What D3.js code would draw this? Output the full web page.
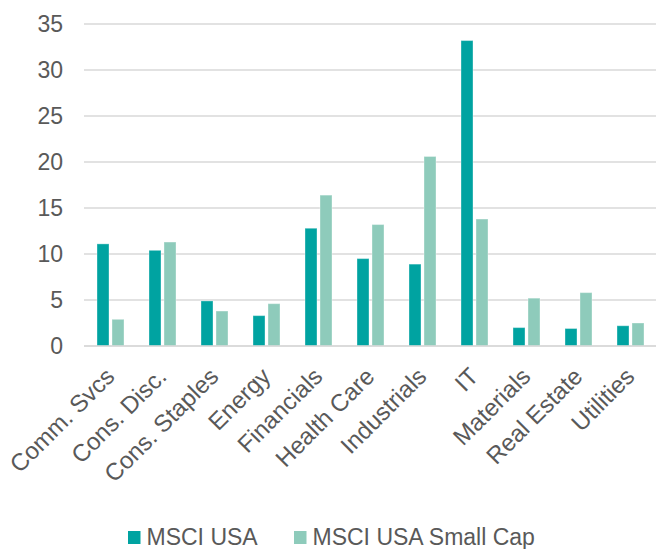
<!DOCTYPE html>
<html>
<head>
<meta charset="utf-8">
<script src="https://cdn.jsdelivr.net/npm/d3@7"></script>
<style>
  html, body { margin: 0; padding: 0; background: #fff; }
  svg { display: block; }
  text { font-family: "Liberation Sans", Arial, sans-serif; fill: #595959; }
</style>
</head>
<body>
<svg id="chart" width="656" height="549"></svg>
<script>
const categories = ["Comm. Svcs", "Cons. Disc.", "Cons. Staples", "Energy", "Financials", "Health Care", "Industrials", "IT", "Materials", "Real Estate", "Utilities"];
const seriesNames = ["MSCI USA", "MSCI USA Small Cap"];
const msciUSA = [11.1, 10.4, 4.9, 3.3, 12.8, 9.5, 8.9, 33.2, 2.0, 1.9, 2.2];
const msciUSASmallCap = [2.9, 11.3, 3.8, 4.6, 16.4, 13.2, 20.6, 13.8, 5.2, 5.8, 2.5];
const yTicks = [0, 5, 10, 15, 20, 25, 30, 35];
const colors = ["#00A3A1", "#8ECBBB"];

const svg = d3.select("#chart");
const margin = { left: 84, right: 0, top: 24, bottom: 203 };
const W = 656, H = 549;
const plotW = W - margin.left - margin.right;
const plotH = H - margin.top - margin.bottom;

const x = d3.scaleBand().domain(categories).range([margin.left, margin.left + plotW]).padding(0);
const y = d3.scaleLinear().domain([0, 35]).range([margin.top + plotH, margin.top]);

// gridlines
svg.append("g").selectAll("line").data(yTicks).join("line")
  .attr("x1", margin.left).attr("x2", margin.left + plotW)
  .attr("y1", d => y(d)).attr("y2", d => y(d))
  .attr("stroke", "#d9d9d9").attr("stroke-width", 1.5);

// y tick labels
svg.append("g").selectAll("text").data(yTicks).join("text")
  .attr("x", 63).attr("y", d => y(d))
  .attr("dy", "0.36em")
  .attr("text-anchor", "end")
  .style("font-size", "23px")
  .text(d => d);

// bars
const barW = 12, gap = 3;
const sub = d3.scaleOrdinal().domain([0, 1]).range([-(barW + gap / 2) + 0.5, gap / 2 + 0.5]);
const data = [msciUSA, msciUSASmallCap];
data.forEach((vals, si) => {
  svg.append("g").selectAll("rect").data(vals).join("rect")
    .attr("x", (d, i) => x(categories[i]) + x.bandwidth() / 2 + sub(si))
    .attr("width", barW)
    .attr("y", d => y(d))
    .attr("height", d => y(0) - y(d))
    .attr("fill", colors[si])
    .attr("stroke", "#ffffff").attr("stroke-opacity", 0.35).attr("stroke-width", 1);
});

// x axis baseline on top
svg.append("line")
  .attr("x1", margin.left).attr("x2", margin.left + plotW)
  .attr("y1", y(0)).attr("y2", y(0))
  .attr("stroke", "#d9d9d9").attr("stroke-width", 1.5);

// category labels
svg.append("g").selectAll("text").data(categories).join("text")
  .attr("transform", d => `translate(${x(d) + x.bandwidth() / 2 + 0},${y(0) + 26}) rotate(-45)`)
  .attr("text-anchor", "end")
  .attr("dy", "0.35em")
  .style("font-size", "24px")
  .text(d => d);

// legend
const legend = svg.append("g");
const legendItems = [
  { name: seriesNames[0], color: colors[0], x: 128 },
  { name: seriesNames[1], color: colors[1], x: 294 }
];
legendItems.forEach(it => {
  legend.append("rect").attr("x", it.x).attr("y", 531).attr("width", 12.5).attr("height", 13).attr("fill", it.color);
  legend.append("text").attr("x", it.x + 18.5).attr("y", 545).style("font-size", "23px").text(it.name);
});
</script>
</body>
</html>
